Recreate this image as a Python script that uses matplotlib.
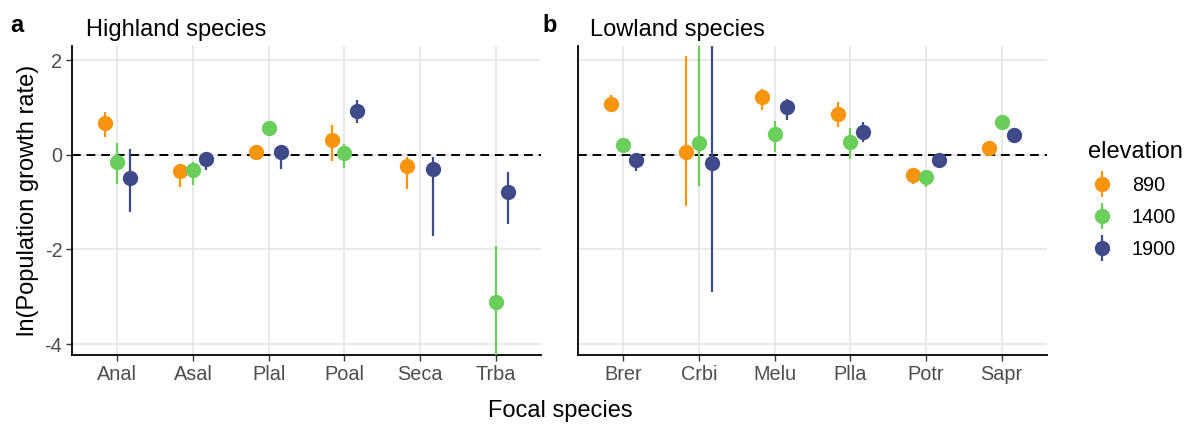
import numpy as np
import matplotlib
matplotlib.use("Agg")
import matplotlib.pyplot as plt
from matplotlib.lines import Line2D
from matplotlib.legend_handler import HandlerTuple

plt.rcParams['font.family'] = ['Liberation Sans', 'DejaVu Sans']
plt.rcParams['axes.unicode_minus'] = False

elevations = ['890', '1400', '1900']
colors = ['#F7950F', '#69CE5A', '#3E4A89']

# panel a: highland species
high_species = ['Anal', 'Asal', 'Plal', 'Poal', 'Seca', 'Trba']
high_mean = [
    [0.68, -0.34, 0.07, 0.31, -0.23, np.nan],
    [-0.15, -0.32, 0.57, 0.03, np.nan, -3.12],
    [-0.49, -0.08, 0.07, 0.93, -0.30, -0.79],
]
high_lo = [
    [0.37, -0.67, -0.02, -0.12, -0.73, np.nan],
    [-0.61, -0.64, 0.50, -0.27, np.nan, -4.60],
    [-1.20, -0.33, -0.30, 0.67, -1.72, -1.47],
]
high_hi = [
    [0.91, -0.22, 0.15, 0.63, -0.05, np.nan],
    [0.25, -0.15, 0.64, 0.23, np.nan, -1.93],
    [0.13, 0.02, 0.18, 1.16, -0.05, -0.36],
]

# panel b: lowland species
low_species = ['Brer', 'Crbi', 'Melu', 'Plla', 'Potr', 'Sapr']
low_mean = [
    [1.07, 0.07, 1.22, 0.86, -0.43, 0.14],
    [0.20, 0.25, 0.44, 0.27, -0.46, 0.69],
    [-0.11, -0.18, 1.01, 0.48, -0.11, 0.41],
]
low_lo = [
    [0.90, -1.08, 0.94, 0.58, -0.61, 0.08],
    [0.12, -0.65, 0.05, -0.09, -0.67, 0.62],
    [-0.34, -2.90, 0.74, 0.27, -0.18, 0.35],
]
low_hi = [
    [1.27, 2.09, 1.39, 1.12, -0.33, 0.20],
    [0.28, 2.90, 0.72, 0.57, -0.37, 0.76],
    [-0.02, 2.90, 1.17, 0.70, -0.05, 0.47],
]

fig = plt.figure(figsize=(11.89, 4.25), dpi=100)
ax_a = fig.add_axes([0.0606, 0.1647, 0.3944, 0.727])
ax_b = fig.add_axes([0.4861, 0.1647, 0.3944, 0.727])

offsets = [-1/6, 0, 1/6]
tick_grey = '#4D4D4D'


def draw_panel(ax, species, mean, lo, hi, show_y):
    x = np.arange(1, len(species) + 1)
    ax.set_axisbelow(True)
    ax.grid(True, color='#E5E5E5', linewidth=1.2)
    ax.axhline(0, color='black', linestyle=(0, (4.5, 3)), linewidth=1.4, zorder=2)
    for k in range(3):
        m = np.array(mean[k])
        l = np.array(lo[k])
        h = np.array(hi[k])
        ok = ~np.isnan(m)
        xs = x[ok] + offsets[k]
        ax.vlines(xs, l[ok], h[ok], color=colors[k], linewidth=1.6, zorder=3)
        ax.plot(xs, m[ok], 'o', color=colors[k], markersize=10, zorder=4)
    ax.set_xlim(0.4, 6.6)
    ax.set_ylim(-4.23, 2.30)
    ax.set_xticks(x)
    ax.set_xticklabels(species)
    ax.set_yticks([-4, -2, 0, 2])
    for side in ['top', 'right']:
        ax.spines[side].set_visible(False)
    for side in ['left', 'bottom']:
        ax.spines[side].set_linewidth(1.3)
    ax.tick_params(axis='both', labelsize=14.3, labelcolor=tick_grey,
                   length=4, width=1.0, color='#333333', pad=3)
    if not show_y:
        ax.tick_params(axis='y', left=False, labelleft=False)


draw_panel(ax_a, high_species, high_mean, high_lo, high_hi, True)
draw_panel(ax_b, low_species, low_mean, low_lo, low_hi, False)

ax_a.set_ylabel('ln(Population growth rate)', fontsize=17, labelpad=4)
fig.text(0.471, 0.033, 'Focal species', fontsize=17, ha='center', va='center')

fig.text(0.009, 0.94, 'a', fontsize=17, fontweight='bold', va='center')
fig.text(0.072, 0.93, 'Highland species', fontsize=17, va='center')
fig.text(0.456, 0.94, 'b', fontsize=17, fontweight='bold', va='center')
fig.text(0.496, 0.93, 'Lowland species', fontsize=17, va='center')

handles = []
for c in colors:
    bar = Line2D([], [], color=c, marker='|', markersize=19, markeredgewidth=1.6, linestyle='none')
    dot = Line2D([], [], color=c, marker='o', markersize=10, linestyle='none')
    handles.append((bar, dot))
leg = fig.legend(handles, elevations, title='elevation', loc='upper left',
                 bbox_to_anchor=(0.9, 0.71), frameon=False, fontsize=14.3,
                 title_fontsize=17, handler_map={tuple: HandlerTuple(ndivide=1)},
                 handlelength=1.4, handletextpad=0.8, labelspacing=0.65,
                 alignment='left')

fig.savefig('out.png', dpi=100)
